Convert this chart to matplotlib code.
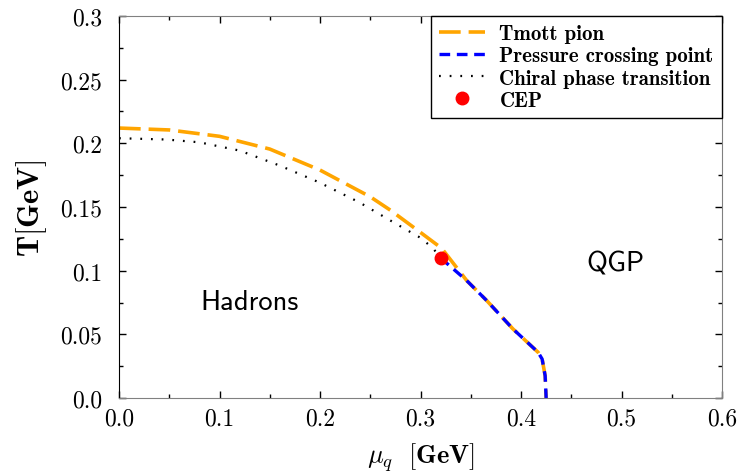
import numpy as np
import matplotlib
matplotlib.use('Agg')
import matplotlib.pyplot as plt
from matplotlib.legend_handler import HandlerLine2D

# Tmott pion (naranja)
mu_mott = [0.0, 0.05, 0.10, 0.15, 0.20, 0.25, 0.27, 0.30, 0.321,
           0.346, 0.366, 0.392, 0.417, 0.421, 0.424, 0.425]
T_mott = [0.212, 0.2105, 0.2055, 0.1955, 0.179, 0.158, 0.1475, 0.130, 0.1176,
          0.0922, 0.0764, 0.0542, 0.0359, 0.0306, 0.0175, 0.0]

# Pressure crossing point (azul)
mu_press = [0.320, 0.346, 0.366, 0.392, 0.417, 0.421, 0.424, 0.425]
T_press = [0.110, 0.0922, 0.0764, 0.0542, 0.0359, 0.0306, 0.0175, 0.0]

# Chiral phase transition (pontilhado)
mu_chiral = [0.0, 0.047, 0.080, 0.120, 0.160, 0.199, 0.239, 0.273, 0.2995,
             0.312, 0.320]
T_chiral = [0.204, 0.203, 0.2008, 0.1943, 0.1825, 0.1694, 0.1537, 0.138, 0.126,
            0.118, 0.110]

# Critical end point
mu_cep = [0.320]
T_cep = [0.110]

xticks = [0.0, 0.1, 0.2, 0.3, 0.4, 0.5, 0.6]
xtick_labels = ['0.0', '0.1', '0.2', '0.3', '0.4', '0.5', '0.6']
yticks = [0.0, 0.05, 0.1, 0.15, 0.2, 0.25, 0.3]
ytick_labels = ['0.0', '0.05', '0.1', '0.15', '0.2', '0.25', '0.3']

plt.rcParams['mathtext.fontset'] = 'cm'

fig = plt.figure(figsize=(7.41, 4.77), dpi=100)
ax = fig.add_axes([0.1606, 0.1635, 0.8138, 0.8009])

ax.plot(mu_mott, T_mott, color='orange', lw=2.6, dashes=(6, 2.2),
        label='Tmott pion')
ax.plot(mu_press, T_press, color='blue', lw=2.4, dashes=(3.2, 2.0),
        label='Pressure crossing point')
ax.plot(mu_chiral, T_chiral, color='black', lw=1.6, dashes=(0.8, 4.0),
        label='Chiral phase transition')
cep, = ax.plot(mu_cep, T_cep, 'o', color='red', ms=9, label='CEP')

ax.set_xlim(0, 0.6)
ax.set_ylim(0, 0.3)
ax.set_xticks(xticks)
ax.set_xticklabels(xtick_labels, family='cmr10', fontsize=17)
ax.set_yticks(yticks)
ax.set_yticklabels(ytick_labels, family='cmr10', fontsize=17)
ax.set_xticks(np.arange(0.05, 0.6, 0.1), minor=True)
ax.set_yticks(np.arange(0.025, 0.3, 0.05), minor=True)
ax.tick_params(which='both', direction='in', top=True, right=True)
ax.tick_params(which='major', length=5, width=1)
ax.tick_params(which='minor', length=3, width=1)
ax.tick_params(axis='x', which='major', pad=7)
ax.tick_params(axis='y', which='major', pad=12)

for lado in ['top', 'right', 'bottom']:
    ax.spines[lado].set_color('gray')
ax.spines['left'].set_color('black')

ax.set_xlabel(r'$\mu_q\ \ \mathbf{[GeV]}$', fontsize=19, labelpad=7)
ax.set_ylabel(r'$\mathbf{T[GeV]}$', fontsize=22, labelpad=8)

ax.text(0.13, 0.0754, 'Hadrons', family='cmss10', fontsize=20.5,
        ha='center', va='center')
ax.text(0.4935, 0.106, 'QGP', family='cmss10', fontsize=20.5,
        ha='center', va='center')

leg = ax.legend(loc='upper right', borderaxespad=0, fancybox=False,
                edgecolor='black', framealpha=1,
                prop={'family': 'cmb10', 'size': 15},
                handlelength=2.2, handletextpad=0.7, labelspacing=0.15,
                borderpad=0.4,
                handler_map={cep: HandlerLine2D(numpoints=1)})
leg.get_frame().set_linewidth(1.0)

plt.savefig('out.png', dpi=100)
